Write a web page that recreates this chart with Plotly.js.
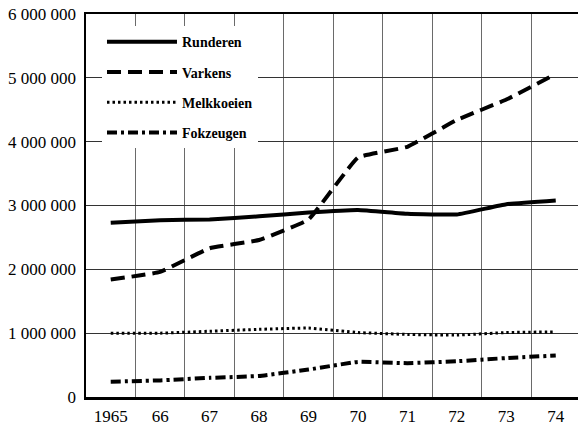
<!DOCTYPE html>
<html>
<head>
<meta charset="utf-8">
<script src="https://cdn.plot.ly/plotly-3.0.1.min.js"></script>
<style>
html,body{margin:0;padding:0;background:#fff;}
#chart{width:578px;height:425px;}
</style>
</head>
<body>
<div id="chart"></div>
<script>
const years = [1965, 1966, 1967, 1968, 1969, 1970, 1971, 1972, 1973, 1974];
const yearLabels = ['1965', '66', '67', '68', '69', '70', '71', '72', '73', '74'];
const runderen   = [2730000, 2770000, 2780000, 2830000, 2890000, 2930000, 2870000, 2860000, 3020000, 3080000];
const varkens    = [1840000, 1960000, 2330000, 2460000, 2780000, 3750000, 3920000, 4340000, 4660000, 5060000];
const melkkoeien = [1000000, 1000000, 1030000, 1060000, 1080000, 1010000, 980000, 970000, 1010000, 1020000];
const fokzeugen  = [240000, 260000, 300000, 330000, 430000, 550000, 530000, 560000, 610000, 650000];
const seriesNames = ['Runderen', 'Varkens', 'Melkkoeien', 'Fokzeugen'];
const yTickVals = [0, 1000000, 2000000, 3000000, 4000000, 5000000, 6000000];
const yTickText = ['0', '1 000 000', '2 000 000', '3 000 000', '4 000 000', '5 000 000', '6 000 000'];

const seriesData = [runderen, varkens, melkkoeien, fokzeugen];
const lineStyles = [
  {width: 4, dash: 'solid'},
  {width: 4, dash: '14px,7px'},
  {width: 3, dash: '2.5px,3px'},
  {width: 4, dash: '10px,4px,3px,4px'}
];

const traces = seriesData.map((vals, i) => ({
  type: 'scatter',
  mode: 'lines',
  x: years,
  y: vals,
  name: seriesNames[i],
  legendgroup: 'g' + i,
  line: Object.assign({color: '#000', shape: 'spline', smoothing: 0.3}, lineStyles[i]),
  hoverinfo: 'skip'
}));

const layout = {
  width: 578,
  height: 425,
  margin: {l: 86, r: 0, t: 14, b: 28, pad: 0},
  paper_bgcolor: '#fff',
  plot_bgcolor: '#fff',
  font: {family: '"Liberation Serif", "Times New Roman", serif', color: '#000', size: 17},
  showlegend: true,
  legend: {
    x: 0.0325, xanchor: 'left',
    y: 0.968, yanchor: 'top',
    bgcolor: '#fff',
    borderwidth: 0,
    font: {family: '"Liberation Serif", serif', size: 14, color: '#000', weight: 'bold'},
    traceorder: 'grouped',
    tracegroupgap: 9,
    itemwidth: 70
  },
  xaxis: {
    range: [1964.5, 1974.45],
    tickvals: years,
    ticktext: yearLabels,
    showgrid: false,
    zeroline: false,
    showline: true,
    linecolor: '#000',
    linewidth: 2.5,
    mirror: true,
    ticks: '',
    ticklabelstandoff: 2,
    tickfont: {size: 17},
    minor: {tick0: 1964.5, dtick: 1, showgrid: true, gridcolor: '#6a6a6a', gridwidth: 1, ticks: ''}
  },
  yaxis: {
    range: [0, 6000000],
    tickvals: yTickVals,
    ticktext: yTickText,
    showgrid: true,
    gridcolor: '#333',
    gridwidth: 1,
    zeroline: false,
    showline: true,
    linecolor: '#000',
    linewidth: 2.5,
    mirror: false,
    ticks: '',
    ticklabelstandoff: 4,
    tickfont: {size: 17}
  }
};

Plotly.newPlot('chart', traces, layout, {displayModeBar: false, staticPlot: true});
</script>
</body>
</html>
